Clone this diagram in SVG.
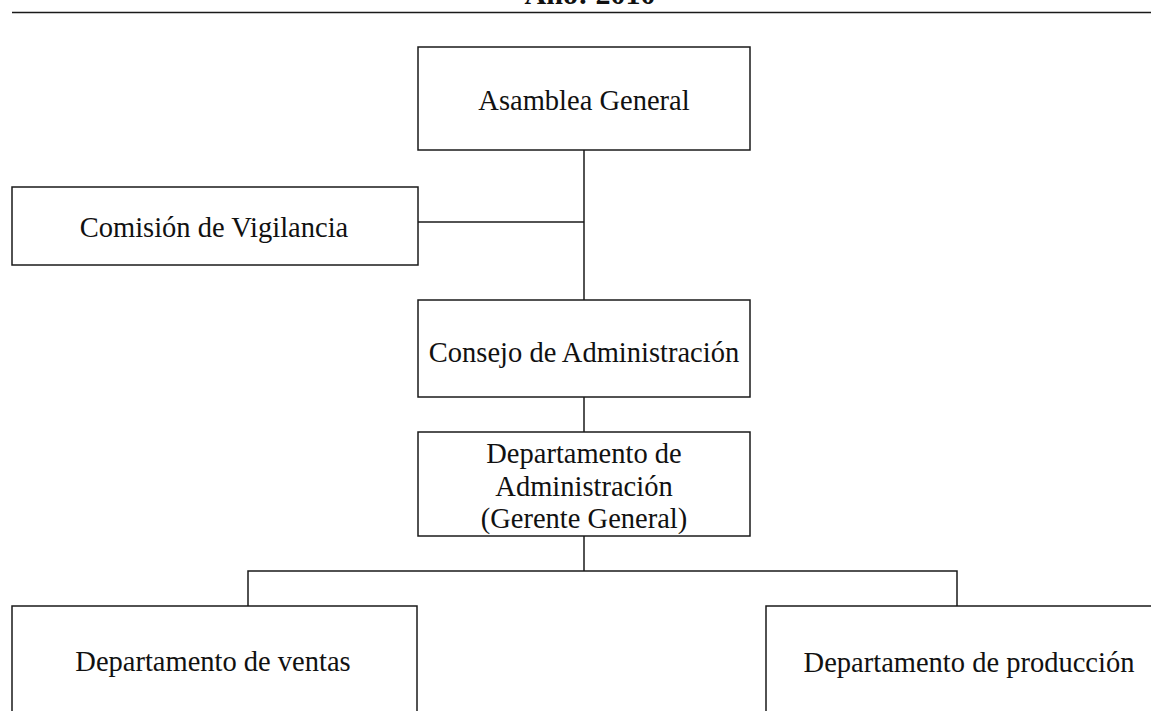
<svg xmlns="http://www.w3.org/2000/svg" width="1151" height="711" viewBox="0 0 1151 711">
<style>
.box{fill:#fff;stroke:#1a1a1a;stroke-width:1.5}
.c{fill:none;stroke:#1a1a1a;stroke-width:1.5}
text{font-family:"Liberation Serif","Times New Roman",serif;font-size:28.5px;fill:#111;text-anchor:middle}
.h{font-weight:bold;font-size:30px}
</style>
<rect width="1151" height="711" fill="#fff"/>
<g id="header">
<text class="h" x="590" y="4">Año: 2010</text>
<line class="c" x1="12" y1="12.5" x2="1151" y2="12.5"/>
</g>
<g id="connectors">
<line class="c" x1="584" y1="150" x2="584" y2="300"/>
<line class="c" x1="418" y1="222" x2="584" y2="222"/>
<line class="c" x1="584" y1="397" x2="584" y2="432"/>
<line class="c" x1="584" y1="536" x2="584" y2="571"/>
<polyline class="c" points="248,606 248,571 957,571 957,606"/>
</g>
<g id="asamblea">
<rect class="box" x="418" y="47" width="332" height="103"/>
<text x="584" y="110">Asamblea General</text>
</g>
<g id="comision">
<rect class="box" x="12" y="187" width="406" height="78"/>
<text x="214" y="237">Comisión de Vigilancia</text>
</g>
<g id="consejo">
<rect class="box" x="418" y="300" width="332" height="97"/>
<text x="584" y="362">Consejo de Administración</text>
</g>
<g id="depto-admin">
<rect class="box" x="418" y="432" width="332" height="104"/>
<text x="584" y="463">Departamento de</text>
<text x="584" y="496">Administración</text>
<text x="584" y="528">(Gerente General)</text>
</g>
<g id="ventas">
<rect class="box" x="12" y="606" width="405" height="120"/>
<text x="213" y="671">Departamento de ventas</text>
</g>
<g id="produccion">
<rect class="box" x="766" y="606" width="400" height="120"/>
<text x="969" y="672">Departamento de producción</text>
</g>
</svg>
